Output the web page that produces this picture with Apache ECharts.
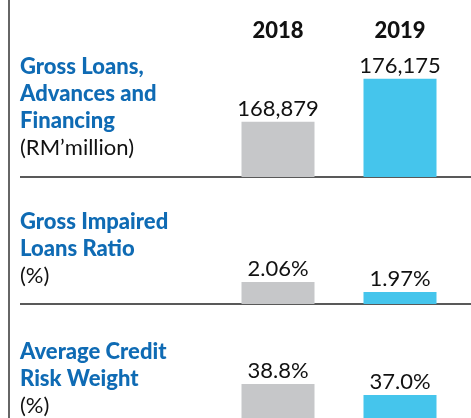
<!DOCTYPE html>
<html>
<head>
<meta charset="utf-8">
<script src="https://cdn.jsdelivr.net/npm/echarts@6/dist/echarts.min.js"></script>
<style>
  html, body { margin: 0; padding: 0; background: #fff; }
  #chart { width: 471px; height: 418px; }
</style>
</head>
<body>
<div id="chart"></div>
<script>
const years = ['2018', '2019']
const grossLoans = [168879, 176175]
const impairedRatio = [2.06, 1.97]
const creditRiskWeight = [38.8, 37.0]

const barColors = ['#c6c7c9', '#45c5ec']
const titleBlue = '#0f6bb4'
const font = 'Lato'

// one panel per metric: baseline y, grid top, axis range
const panels = [
  { title: ['Gross Loans,', 'Advances and', 'Financing'], unit: '(RM\u2019million)', data: grossLoans,
    top: 45, base: 177, min: 159500, max: 181900, titleTop: 53, line: true,
    fmt: v => v.toLocaleString('en-US') },
  { title: ['Gross Impaired', 'Loans Ratio'], unit: '(%)', data: impairedRatio,
    top: 200, base: 304, min: 1.862, max: 2.798, titleTop: 208, line: true,
    fmt: v => v.toFixed(2) + '%' },
  // last panel runs off the bottom edge, so its grid stops at the edge
  { title: ['Average Credit', 'Risk Weight'], unit: '(%)', data: creditRiskWeight,
    top: 330, base: 418, min: 33.24, max: 47.64, titleTop: 338, line: false,
    fmt: v => v.toFixed(1) + '%' }
]

const chart = echarts.init(document.getElementById('chart'))

const grid = panels.map(p => ({ left: 217, width: 244, top: p.top, height: p.base - p.top }))

const xAxis = panels.map((p, i) => ({
  type: 'category',
  gridIndex: i,
  data: years,
  axisLine: { show: false },
  axisTick: { show: false },
  axisLabel: { show: false }
}))
// year headers above the first panel
xAxis.push({
  type: 'category',
  gridIndex: 0,
  position: 'top',
  data: years,
  axisLine: { show: false },
  axisTick: { show: false },
  axisLabel: { margin: 3, fontFamily: font, fontWeight: 900, fontSize: 22, color: '#111' }
})

const yAxis = panels.map((p, i) => ({
  type: 'value',
  gridIndex: i,
  min: p.min,
  max: p.max,
  show: false,
  splitLine: { show: false }
}))

const series = panels.map((p, i) => ({
  type: 'bar',
  xAxisIndex: i,
  yAxisIndex: i,
  barWidth: 73,
  data: p.data.map((v, j) => ({ value: v, itemStyle: { color: barColors[j] } })),
  label: {
    show: true,
    position: 'top',
    distance: 2,
    fontFamily: font,
    fontSize: 22,
    color: '#111',
    formatter: d => p.fmt(d.value)
  },
  silent: true
}))

const title = panels.map(p => ({
  left: 20,
  top: p.titleTop,
  padding: 0,
  text: p.title.map(t => '{h|' + t + '}').join('\n') + '\n{u|' + p.unit + '}',
  textStyle: {
    rich: {
      h: { fontFamily: font, fontWeight: 900, fontSize: 22, lineHeight: 27, color: titleBlue },
      u: { fontFamily: font, fontWeight: 'normal', fontSize: 22, lineHeight: 27, color: '#111' }
    }
  }
}))

const graphic = [
  { type: 'line', shape: { x1: 9, y1: 0, x2: 9, y2: 418 }, style: { stroke: '#666', lineWidth: 2 } }
].concat(panels.filter(p => p.line).map(p => ({
  type: 'line',
  shape: { x1: 20, y1: p.base, x2: 471, y2: p.base },
  style: { stroke: '#222', lineWidth: 1.5 }
})))

chart.setOption({
  animation: false,
  title,
  grid,
  xAxis,
  yAxis,
  series,
  graphic
})
</script>
</body>
</html>
